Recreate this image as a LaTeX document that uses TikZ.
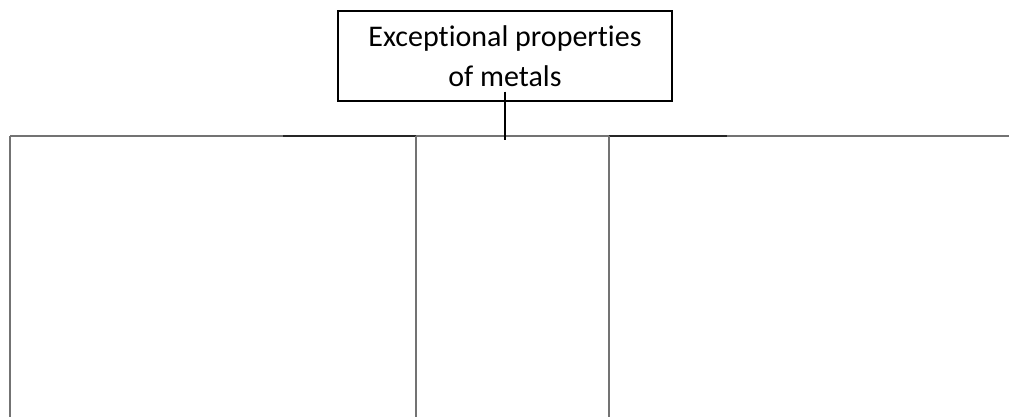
\documentclass[tikz,border=0pt]{standalone}
\usepackage{fontspec}
\setmainfont{Carlito}[Ligatures=NoCommon]
\usepackage{tikz}
\usetikzlibrary{positioning}

\begin{document}
\begin{tikzpicture}[x=1pt, y=1pt,
    title/.style={
        rectangle, draw=black, line width=1.3pt, minimum width=334pt,
        minimum height=90pt, inner sep=0pt, align=center,
        font=\fontsize{30}{40}\selectfont
    },
    branch/.style={draw=black!55, line width=1.8pt},
    overlap/.style={draw=black!85, line width=1.8pt},
    stem/.style={draw=black, line width=1.3pt}
]
    \useasboundingbox (0,0) rectangle (1009,-416);

    \node[title] (T) at (505,-56) {Exceptional properties\\of metals};
    \coordinate[below=38pt of T] (J);

    % tops of the three columns and the bottom edge
    \coordinate (C1) at (10,-136);
    \coordinate (C2) at (416,-136);
    \coordinate (C3) at (609,-136);
    \coordinate (E)  at (1009,-136);
    \coordinate (B)  at (0,-418);
    \coordinate (O1) at (283,-136);
    \coordinate (O2) at (727,-136);

    \draw[branch] (C1) -- (E);
    \draw[overlap] (O1) -- (C2);
    \draw[overlap] (C3) -- (O2);
    \foreach \c in {C1, C2, C3} {
        \draw[branch] (\c) -- (\c |- B);
    }
    \draw[stem] ([yshift=10pt]T.south -| J) -- (J);
\end{tikzpicture}
\end{document}
